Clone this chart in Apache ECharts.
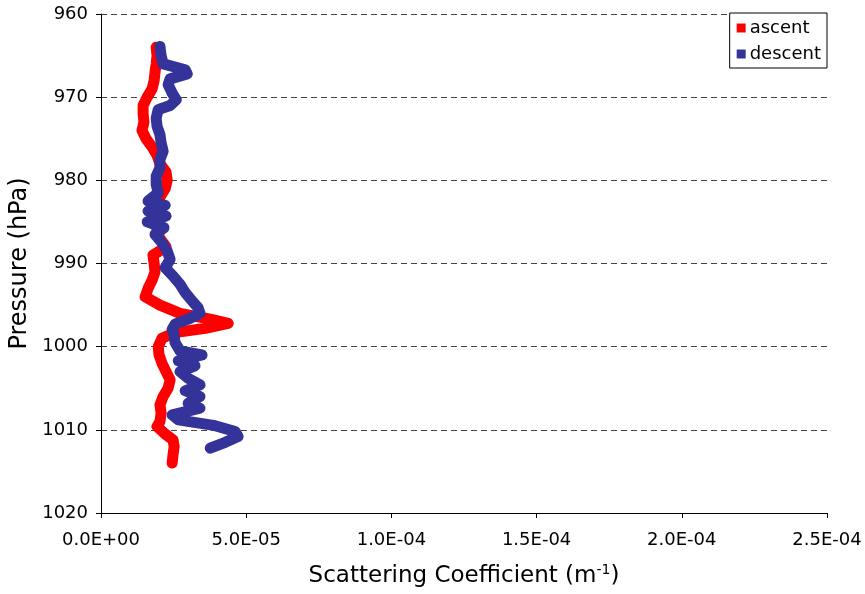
<!DOCTYPE html>
<html>
<head>
<meta charset="utf-8">
<script src="https://cdn.jsdelivr.net/npm/echarts@6/dist/echarts.min.js"></script>
<style>html,body{margin:0;padding:0;background:#fff}#c{width:865px;height:594px}</style>
</head>
<body>
<div id="c"></div>
<script>
// Scattering coefficient in units of 1E-6 m^-1, pressure in hPa
const ascentPressure = [964,965,966,967,968,969,970,971,972,973,974,975,976,977,978,979,980,981,982,983,984,985,986,987,988,989,990,991,992,993,994,995,996,996.7,997.2,997.8,998.3,999,1000,1001,1002,1003,1004,1005,1006,1007,1008,1009,1009.6,1010.5,1011.2,1012,1013,1014];
const ascentScatter = [19.0,19.3,19.0,18.6,18.3,17.6,15.9,14.5,14.5,14.8,14.1,15.5,17.6,19.3,20.3,22.4,22.8,22.1,20.3,19.7,18.6,19.0,19.3,20.3,22.4,17.9,18.3,18.6,17.6,16.2,15.2,20.3,27.2,37.6,43.8,35.9,25.5,21.0,19.7,20.0,21.0,22.4,23.8,23.1,21.4,20.3,20.7,20.3,19.3,22.1,24.8,25.2,24.8,24.5];
const descentPressure = [963.9,965,966,966.7,967.2,967.8,968.5,969.5,970.3,971,971.5,972.5,973.5,974.5,975.5,976.5,977.5,978.5,979.5,980.5,981.5,982.5,983,983.7,984.3,985,985.7,986.5,987.5,988.5,989.5,990.5,991.5,992.5,993.5,994.5,995.3,996,996.7,997.3,997.9,998.7,999.5,1000.5,1001,1001.7,1002.3,1003,1003.8,1004.6,1005.3,1006,1006.8,1007.4,1008.2,1008.8,1009.5,1010.2,1010.8,1011.5,1012.2];
const descentScatter = [20.3,20.7,21.4,29.0,29.7,23.8,23.1,24.5,25.9,23.8,19.7,19.0,19.3,20.3,20.7,21.4,20.3,20.3,19.0,19.0,19.7,16.2,22.1,16.2,22.4,15.9,21.7,18.6,21.0,22.8,23.8,22.1,24.8,27.2,29.0,31.4,33.4,34.1,30.0,25.5,24.5,25.2,25.5,27.2,34.8,26.6,32.4,27.2,30.0,34.1,29.0,34.1,30.0,34.1,24.5,26.6,39.3,46.2,47.2,42.8,37.6];
const seriesNames = ['ascent','descent'];
const xTicks = [0,50,100,150,200,250];
const yTicks = [960,970,980,990,1000,1010,1020];

function pairs(xs, ps){ return xs.map((v,i)=>[v, ps[i]]); }
function sci(v){
  const real = v*1e-6;
  if (real === 0) return '0.0E+00';
  let e = Math.floor(Math.log10(Math.abs(real)) + 1e-9);
  let m = real/Math.pow(10,e);
  const sign = e<0?'-':'+';
  const ea = Math.abs(e);
  return m.toFixed(1)+'E'+sign+(ea<10?'0':'')+ea;
}
const FONT = 'DejaVu Sans';
const chart = echarts.init(document.getElementById('c'));
chart.setOption({
  animation:false,
  backgroundColor:'#fff',
  grid:{left:101,top:14,right:38,bottom:81,containLabel:false,outerBoundsMode:'none'},
  legend:{
    data:seriesNames, orient:'vertical', right:38, top:13,
    backgroundColor:'#fff', borderColor:'#000', borderWidth:1,
    padding:[6,6,5,7], itemGap:8, itemWidth:9, itemHeight:9, icon:'rect',
    textStyle:{fontFamily:FONT,fontSize:18,color:'#000',padding:[0,0,0,-1]}
  },
  xAxis:{
    type:'value', min:xTicks[0], max:xTicks[xTicks.length-1], interval:50,
    name:'Scattering Coefficient (m{sup|-1})', nameLocation:'middle', nameGap:50,
    nameTextStyle:{fontFamily:FONT,fontSize:23,color:'#000',
      rich:{sup:{fontFamily:FONT,fontSize:14,color:'#000',verticalAlign:'top',padding:[0,0,12,0]}}},
    axisLine:{lineStyle:{color:'#000',width:1}},
    axisTick:{show:true,length:5,inside:false,lineStyle:{color:'#000'}},
    axisLabel:{fontFamily:FONT,fontSize:18,color:'#000',margin:18,formatter:sci},
    splitLine:{show:false}
  },
  yAxis:{
    type:'value', inverse:true, min:yTicks[0], max:yTicks[yTicks.length-1], interval:10,
    name:'Pressure (hPa)', nameLocation:'middle', nameGap:68, nameRotate:90,
    nameTextStyle:{fontFamily:FONT,fontSize:24,color:'#000'},
    axisLine:{show:true,lineStyle:{color:'#000',width:1}},
    axisTick:{show:true,length:5,inside:false,lineStyle:{color:'#000'}},
    axisLabel:{fontFamily:FONT,fontSize:18,color:'#000',margin:13,formatter:v=>String(v)},
    splitLine:{show:true,lineStyle:{color:'#444',type:[6,4],width:1}}
  },
  series:[
    {name:seriesNames[0], type:'line', data:pairs(ascentScatter, ascentPressure),
     symbol:'none', color:'#FF0000',
     lineStyle:{color:'#FF0000',width:11,cap:'round',join:'round'}},
    {name:seriesNames[1], type:'line', data:pairs(descentScatter, descentPressure),
     symbol:'none', color:'#333399',
     lineStyle:{color:'#333399',width:11,cap:'round',join:'round'}}
  ]
});
</script>
</body>
</html>
